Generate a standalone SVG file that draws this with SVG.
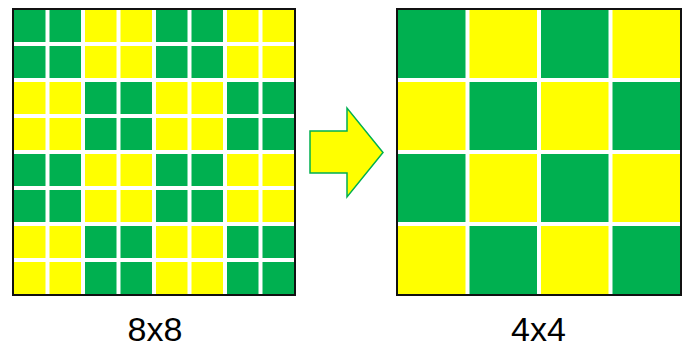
<svg xmlns="http://www.w3.org/2000/svg" width="686" height="345" viewBox="0 0 686 345">
<style>
.g{fill:#00B050}
.y{fill:#FFFF00}
.frame{fill:none;stroke:#111;stroke-width:2}
.lbl{font-family:"Liberation Sans",Arial,sans-serif;font-size:34px;fill:#000;text-anchor:middle}
.arrow{fill:#FFFF00;stroke:#00B050;stroke-width:1.5;stroke-linejoin:miter}
</style>
<rect width="686" height="345" fill="#fff"/>
<g id="grid8">
<g transform="translate(14,10)">
<!-- row 0 -->
<rect class="g" x="0" y="0" width="31.5" height="32"/><rect class="g" x="35.5" y="0" width="31.5" height="32"/><rect class="y" x="71" y="0" width="31.5" height="32"/><rect class="y" x="106.5" y="0" width="31.5" height="32"/><rect class="g" x="142" y="0" width="31.5" height="32"/><rect class="g" x="177.5" y="0" width="31.5" height="32"/><rect class="y" x="213" y="0" width="31.5" height="32"/><rect class="y" x="248.5" y="0" width="31.5" height="32"/>
<!-- row 1 -->
<rect class="g" x="0" y="36" width="31.5" height="32"/><rect class="g" x="35.5" y="36" width="31.5" height="32"/><rect class="y" x="71" y="36" width="31.5" height="32"/><rect class="y" x="106.5" y="36" width="31.5" height="32"/><rect class="g" x="142" y="36" width="31.5" height="32"/><rect class="g" x="177.5" y="36" width="31.5" height="32"/><rect class="y" x="213" y="36" width="31.5" height="32"/><rect class="y" x="248.5" y="36" width="31.5" height="32"/>
<!-- row 2 -->
<rect class="y" x="0" y="72" width="31.5" height="32"/><rect class="y" x="35.5" y="72" width="31.5" height="32"/><rect class="g" x="71" y="72" width="31.5" height="32"/><rect class="g" x="106.5" y="72" width="31.5" height="32"/><rect class="y" x="142" y="72" width="31.5" height="32"/><rect class="y" x="177.5" y="72" width="31.5" height="32"/><rect class="g" x="213" y="72" width="31.5" height="32"/><rect class="g" x="248.5" y="72" width="31.5" height="32"/>
<!-- row 3 -->
<rect class="y" x="0" y="108" width="31.5" height="32"/><rect class="y" x="35.5" y="108" width="31.5" height="32"/><rect class="g" x="71" y="108" width="31.5" height="32"/><rect class="g" x="106.5" y="108" width="31.5" height="32"/><rect class="y" x="142" y="108" width="31.5" height="32"/><rect class="y" x="177.5" y="108" width="31.5" height="32"/><rect class="g" x="213" y="108" width="31.5" height="32"/><rect class="g" x="248.5" y="108" width="31.5" height="32"/>
<!-- row 4 -->
<rect class="g" x="0" y="144" width="31.5" height="32"/><rect class="g" x="35.5" y="144" width="31.5" height="32"/><rect class="y" x="71" y="144" width="31.5" height="32"/><rect class="y" x="106.5" y="144" width="31.5" height="32"/><rect class="g" x="142" y="144" width="31.5" height="32"/><rect class="g" x="177.5" y="144" width="31.5" height="32"/><rect class="y" x="213" y="144" width="31.5" height="32"/><rect class="y" x="248.5" y="144" width="31.5" height="32"/>
<!-- row 5 -->
<rect class="g" x="0" y="180" width="31.5" height="32"/><rect class="g" x="35.5" y="180" width="31.5" height="32"/><rect class="y" x="71" y="180" width="31.5" height="32"/><rect class="y" x="106.5" y="180" width="31.5" height="32"/><rect class="g" x="142" y="180" width="31.5" height="32"/><rect class="g" x="177.5" y="180" width="31.5" height="32"/><rect class="y" x="213" y="180" width="31.5" height="32"/><rect class="y" x="248.5" y="180" width="31.5" height="32"/>
<!-- row 6 -->
<rect class="y" x="0" y="216" width="31.5" height="32"/><rect class="y" x="35.5" y="216" width="31.5" height="32"/><rect class="g" x="71" y="216" width="31.5" height="32"/><rect class="g" x="106.5" y="216" width="31.5" height="32"/><rect class="y" x="142" y="216" width="31.5" height="32"/><rect class="y" x="177.5" y="216" width="31.5" height="32"/><rect class="g" x="213" y="216" width="31.5" height="32"/><rect class="g" x="248.5" y="216" width="31.5" height="32"/>
<!-- row 7 -->
<rect class="y" x="0" y="252" width="31.5" height="32"/><rect class="y" x="35.5" y="252" width="31.5" height="32"/><rect class="g" x="71" y="252" width="31.5" height="32"/><rect class="g" x="106.5" y="252" width="31.5" height="32"/><rect class="y" x="142" y="252" width="31.5" height="32"/><rect class="y" x="177.5" y="252" width="31.5" height="32"/><rect class="g" x="213" y="252" width="31.5" height="32"/><rect class="g" x="248.5" y="252" width="31.5" height="32"/>
</g>
<rect class="frame" x="13" y="9" width="282" height="286"/>
<text class="lbl" x="155" y="341">8x8</text>
</g>
<g id="grid4">
<g transform="translate(398,10)">
<rect class="g" x="0" y="0" width="67.5" height="68"/><rect class="y" x="71.5" y="0" width="67.5" height="68"/><rect class="g" x="143" y="0" width="67.5" height="68"/><rect class="y" x="214.5" y="0" width="67.5" height="68"/>
<rect class="y" x="0" y="72" width="67.5" height="68"/><rect class="g" x="71.5" y="72" width="67.5" height="68"/><rect class="y" x="143" y="72" width="67.5" height="68"/><rect class="g" x="214.5" y="72" width="67.5" height="68"/>
<rect class="g" x="0" y="144" width="67.5" height="68"/><rect class="y" x="71.5" y="144" width="67.5" height="68"/><rect class="g" x="143" y="144" width="67.5" height="68"/><rect class="y" x="214.5" y="144" width="67.5" height="68"/>
<rect class="y" x="0" y="216" width="67.5" height="68"/><rect class="g" x="71.5" y="216" width="67.5" height="68"/><rect class="y" x="143" y="216" width="67.5" height="68"/><rect class="g" x="214.5" y="216" width="67.5" height="68"/>
</g>
<rect class="frame" x="397" y="9" width="284" height="286"/>
<text class="lbl" x="538.5" y="341">4x4</text>
</g>
<g id="connectors">
<polygon class="arrow" points="310,131 347,131 347,108 383,152.5 347,197 347,173 310,173"/>
</g>
</svg>
